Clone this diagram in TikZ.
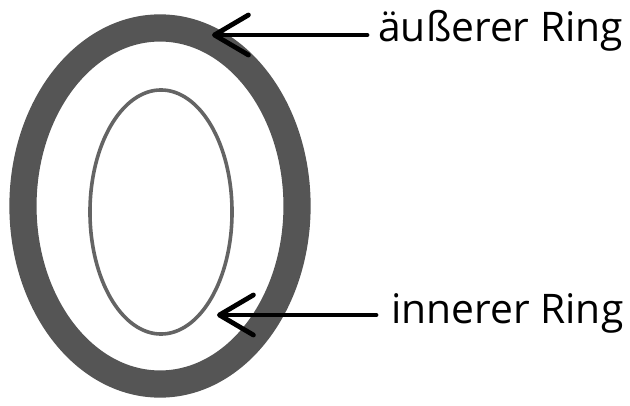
\documentclass[tikz,border=0pt]{standalone}
\usepackage{fontspec}
\setmainfont{Open Sans}
\usetikzlibrary{arrows.meta, shapes.geometric}
\definecolor{ringgray}{RGB}{85,85,85}
\definecolor{thingray}{RGB}{100,100,100}
\tikzstyle{outerring} = [ellipse, draw = ringgray, line width = 0.68cm, minimum width = 6.85cm, minimum height = 8.9cm, inner sep = 0, outer sep = 0]
\tikzstyle{innerring} = [ellipse, draw = thingray, line width = 0.09cm, minimum width = 3.55cm, minimum height = 6.1cm, inner sep = 0, outer sep = 0]
\tikzstyle{pointer} = [-{Straight Barb[length = 0.85cm, width = 1cm, round]}, line width = 0.12cm, line cap = round]
\tikzstyle{ringlabel} = [anchor = base west, inner sep = 0, font = \fontsize{29}{33}\selectfont]

\begin{document}
\begin{tikzpicture}[x = 0.025cm, y = -0.025cm]
  \useasboundingbox (0, 0) rectangle (630, 406);
  \node[outerring] (outer) at (160, 206) {};
  \node[innerring] (inner) at (161, 212) {};
  \coordinate (outertip) at (212, 35);
  \coordinate (innertip) at (217, 315);
  \node[ringlabel] (outerlabel) at (378, 42) {äußerer Ring};
  \node[ringlabel] (innerlabel) at (391, 323) {innerer Ring};
  \draw[pointer] ([shift = {(-11, -7)}]outerlabel.base west) -- (outertip);
  \draw[pointer] ([shift = {(-15, -8)}]innerlabel.base west) -- (innertip);
\end{tikzpicture}
\end{document}
